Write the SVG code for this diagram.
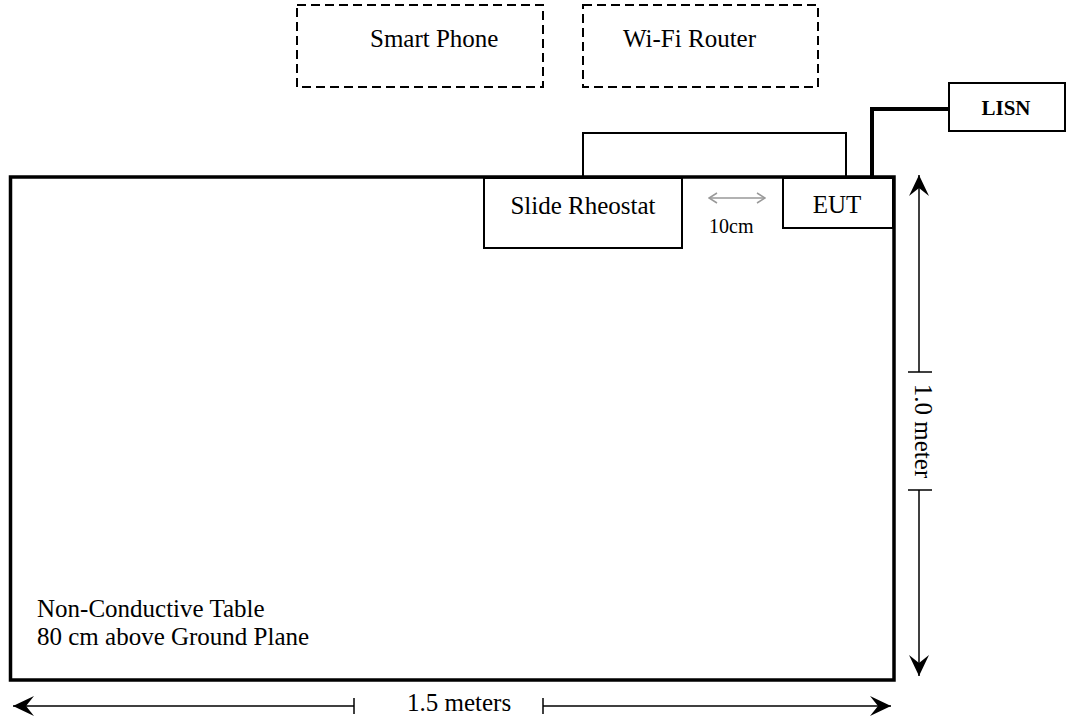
<svg xmlns="http://www.w3.org/2000/svg" width="1067" height="720" viewBox="0 0 1067 720" font-family="'Liberation Serif', 'Times New Roman', Times, serif">
<style>
.lbl{font-size:25px}
.box{fill:#fff;stroke:#000;stroke-width:2}
.dash{fill:none;stroke:#000;stroke-width:2;stroke-dasharray:9 5}
.dim{stroke:#000;stroke-width:1.5;fill:none}
</style>
<defs>
<marker id="ah" viewBox="-22 -11 23 22" markerWidth="23" markerHeight="22" refX="0" refY="0" orient="auto" markerUnits="userSpaceOnUse">
<path d="M0,0 L-21,-10 L-13,0 L-21,10 Z" fill="#000"/>
</marker>
<marker id="gh" viewBox="-9 -6 10 12" markerWidth="10" markerHeight="12" refX="0" refY="0" orient="auto-start-reverse" markerUnits="userSpaceOnUse">
<path d="M-8,-5 L0,0 L-8,5" fill="none" stroke="#999" stroke-width="1.5"/>
</marker>
</defs>
<rect width="1067" height="720" fill="#fff"/>

<g id="table">
<rect x="10.5" y="177" width="883.5" height="503" fill="#fff" stroke="#000" stroke-width="3.5"/>
<text class="lbl" x="37" y="617">Non-Conductive Table</text>
<text class="lbl" x="37" y="645">80 cm above Ground Plane</text>
</g>

<g id="smart-phone">
<rect class="dash" x="297" y="5" width="246" height="82"/>
<text class="lbl" x="370" y="47">Smart Phone</text>
</g>

<g id="wifi-router">
<rect class="dash" x="583" y="5" width="235" height="82"/>
<text class="lbl" x="623" y="47">Wi-Fi Router</text>
</g>

<g id="connectors">
<polyline points="583,177 583,133 846,133 846,177" fill="none" stroke="#000" stroke-width="2"/>
<polyline points="872,177 872,109 949,109" fill="none" stroke="#000" stroke-width="4"/>
<line x1="709" y1="198" x2="765" y2="198" stroke="#999" stroke-width="1.5" marker-start="url(#gh)" marker-end="url(#gh)"/>
</g>

<g id="slide-rheostat">
<rect class="box" x="484" y="178" width="198" height="70"/>
<text class="lbl" x="583" y="214" text-anchor="middle">Slide Rheostat</text>
</g>

<g id="eut">
<rect class="box" x="783" y="178" width="110" height="50"/>
<text class="lbl" x="837" y="213" text-anchor="middle">EUT</text>
</g>

<g id="lisn">
<rect class="box" x="949" y="83" width="116" height="48"/>
<text x="1006" y="115" text-anchor="middle" font-size="21" font-weight="bold">LISN</text>
</g>

<text x="709" y="233" font-size="20">10cm</text>

<g id="dimensions">
<line class="dim" x1="919" y1="372" x2="919" y2="175" marker-end="url(#ah)"/>
<line class="dim" x1="919" y1="490" x2="919" y2="676" marker-end="url(#ah)"/>
<line class="dim" x1="908" y1="372" x2="932" y2="372"/>
<line class="dim" x1="908" y1="490" x2="932" y2="490"/>
<text class="lbl" transform="translate(915,431) rotate(90)" text-anchor="middle">1.0 meter</text>
<line class="dim" x1="354" y1="706" x2="13" y2="706" marker-end="url(#ah)"/>
<line class="dim" x1="543" y1="706" x2="891" y2="706" marker-end="url(#ah)"/>
<line class="dim" x1="354" y1="698" x2="354" y2="714"/>
<line class="dim" x1="543" y1="698" x2="543" y2="714"/>
<text class="lbl" x="407" y="711">1.5 meters</text>
</g>
</svg>
